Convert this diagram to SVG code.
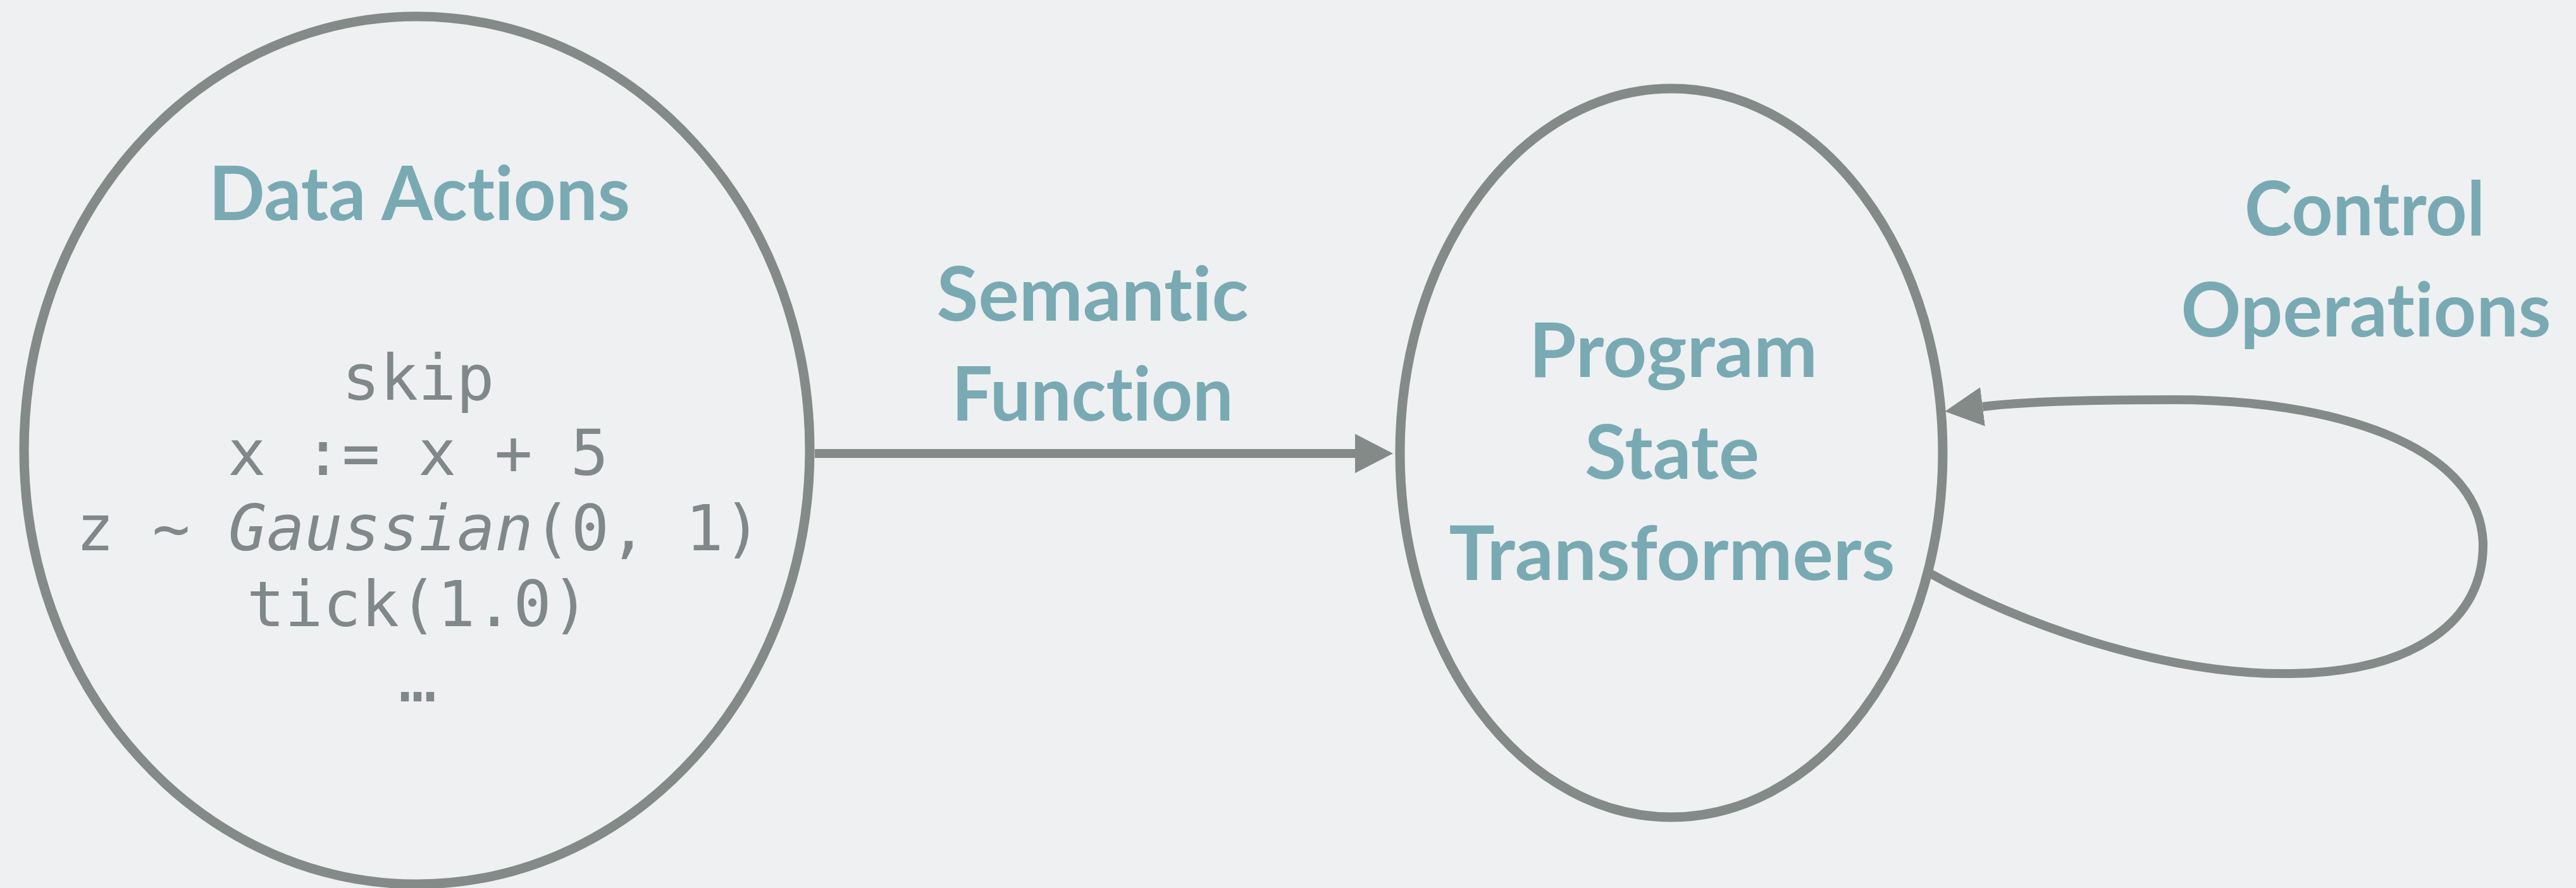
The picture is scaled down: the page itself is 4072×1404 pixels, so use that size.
<svg xmlns="http://www.w3.org/2000/svg" width="4072" height="1404" viewBox="0 0 4072 1404">
  <style>
    .node { fill: none; stroke: #838a87; stroke-width: 15; }
    .edge { fill: none; stroke: #838a87; stroke-width: 14; }
    .label { font-family: Lato, "Open Sans", "Liberation Sans", sans-serif; font-weight: 700; font-size: 118px; fill: #79aab3; text-anchor: middle; font-variant-ligatures: none; font-feature-settings: "liga" 0, "clig" 0, "dlig" 0; }
    .code { font-family: "DejaVu Sans Mono", "Liberation Mono", monospace; font-size: 100px; fill: #80888a; text-anchor: middle; }
  </style>
  <defs>
    <marker id="arrow" markerUnits="userSpaceOnUse" markerWidth="60" markerHeight="62" refX="0" refY="31" orient="auto" viewBox="0 0 60 62">
      <path d="M0,0 L60,31 L0,62 Z" fill="#838a87"/>
    </marker>
  </defs>
  <rect x="0" y="0" width="4072" height="1404" fill="#eef0f2"/>

  <g id="connectors">
    <path id="semantic-function" class="edge" d="M1288 717 L2142 717" marker-end="url(#arrow)"/>
    <path id="control-operations" class="edge" d="M3052 907 C3190 985 3420 1068 3621 1065 C3820 1062 3928 980 3925 857 C3918 700 3680 632 3437 632 C3300 632 3190 636 3134 643" marker-end="url(#arrow)"/>
    <text class="label" x="1727" y="507" textLength="493" lengthAdjust="spacingAndGlyphs">Semantic</text>
    <text class="label" x="1727" y="665" textLength="445" lengthAdjust="spacingAndGlyphs">Function</text>
    <text class="label" x="3738" y="372" textLength="380" lengthAdjust="spacingAndGlyphs">Control</text>
    <text class="label" x="3740" y="532" textLength="585" lengthAdjust="spacingAndGlyphs">Operations</text>
  </g>

  <g id="data-actions">
    <ellipse class="node" cx="659" cy="712" rx="621" ry="686"/>
    <text class="label" x="663" y="348" textLength="666" lengthAdjust="spacingAndGlyphs">Data Actions</text>
    <text class="code" x="661" y="632">skip</text>
    <text class="code" x="661" y="751">x := x + 5</text>
    <text class="code" x="662" y="870">z ~ <tspan font-style="italic">Gaussian</tspan>(0, 1)</text>
    <text class="code" x="661" y="990">tick(1.0)</text>
    <text class="code" x="660" y="1109">…</text>
  </g>

  <g id="program-state-transformers">
    <ellipse class="node" cx="2642" cy="716" rx="429" ry="576"/>
    <text class="label" x="2645" y="596" textLength="456" lengthAdjust="spacingAndGlyphs">Program</text>
    <text class="label" x="2643" y="757" textLength="276" lengthAdjust="spacingAndGlyphs">State</text>
    <text class="label" x="2643" y="917" textLength="705" lengthAdjust="spacingAndGlyphs">Transformers</text>
  </g>
</svg>
